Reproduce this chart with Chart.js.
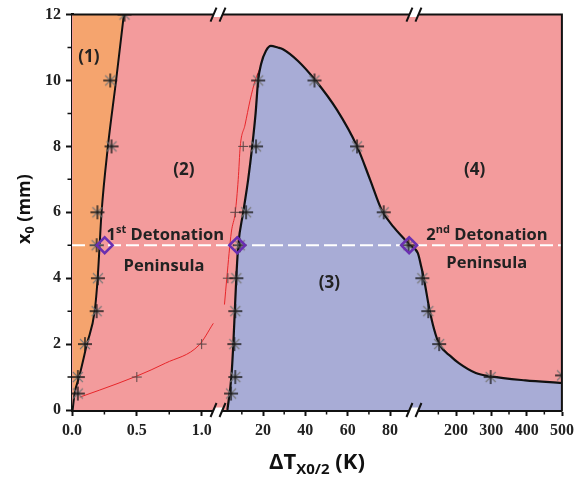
<!DOCTYPE html>
<html>
<head>
<meta charset="utf-8">
<script src="https://cdn.jsdelivr.net/npm/chart.js@4.4.1/dist/chart.umd.min.js"></script>
<style>
  html, body { margin: 0; padding: 0; background: #fff; }
</style>
</head>
<body>
<canvas id="c" width="579" height="481"></canvas>
<script>
// axis ticks (x axis is broken in three pieces)
const X_TICKS = [0, 0.5, 1.0, 20, 40, 60, 80, 200, 300, 400, 500];
const X_TICK_LABELS = ['0.0', '0.5', '1.0', '20', '40', '60', '80', '200', '300', '400', '500'];
const X_MINOR = [0.25, 0.75, 10, 30, 50, 70, 150, 250, 350, 450];
const X_BREAKS = [1.13, 91.5];
const Y_TICKS = [0, 2, 4, 6, 8, 10, 12];
const Y_MINOR = [1, 3, 5, 7, 9, 11];

// boundary (1)|(2)
const B12_X = [0.005, 0.02, 0.055, 0.115, 0.175, 0.198, 0.213, 0.228, 0.277, 0.34, 0.4];
const B12_Y = [0, 0.5, 1, 2, 3, 4, 5, 6, 8, 10, 12];
const STAR12_X = [0.045, 0.045, 0.1, 0.19, 0.2, 0.19, 0.196, 0.305, 0.295, 0.405];
const STAR12_Y = [0.5, 1, 2, 3, 4, 5, 6, 8, 10, 12];

// boundary of region (3)
const B3_X = [3.18, 5.05, 5.98, 6.68, 7.38, 8.32, 10.65, 13.0, 14.9, 16.5, 17.7, 19.1, 21.4, 23.7,
  27.0, 29.4, 36.4, 44.8, 55.0, 64.4, 70.5, 76.1, 81.7, 86.4, 89.2, 92, 102, 110, 124, 138,
  152.4, 186, 208, 256, 298, 396, 500];
const B3_Y = [0, 1, 2, 3, 4, 5, 6, 7, 8, 9, 10, 10.5, 10.9, 11.05,
  11.0, 10.95, 10.6, 10, 9.1, 8, 7, 6.06, 5.55, 5.21, 5, 4.76, 4.33, 3.94, 3.1, 2.45,
  2, 1.62, 1.42, 1.12, 1.02, 0.9, 0.82];
const STAR3_X = [4.9, 6.9, 6.45, 6.9, 7.4, 9.0, 12.0, 16.7, 17.7, 44.3, 64.4, 77.0, 88.7, 104.8, 121.6, 152.4, 298, 500];
const STAR3_Y = [0.5, 1, 2, 3, 4, 5, 6, 8, 10, 10, 8, 6, 5, 4, 3, 2, 1, 1.05];

// thin red curves
const RED1_X = [0.06, 0.21, 0.5, 0.72, 0.98, 1.09];
const RED1_Y = [0.39, 0.6, 1.03, 1.42, 1.97, 2.63];
const RED2_X = [1.8, 2.9, 5.05, 6.9, 8.3, 9.25, 11.5, 13.9, 16.3, 19.1];
const RED2_Y = [3.2, 4, 5.4, 6, 7, 8, 8.65, 9.4, 10, 10.45];
const PLUS_X = [0.5, 1.0, 3.4, 6.9, 10.65];
const PLUS_Y = [1, 2, 4, 6, 8];

// detonation peninsula points and dashed line
const DIAMOND_X = [0.252, 7.85, 89.0];
const DIAMOND_Y = [5, 5, 5];
const DASH_X = [0, 500];
const DASH_Y = [5, 5];

// region labels
const LABELS = [
  { parts: [['(1)', 17, 0]], x: 0.13, y: 10.55, align: 'center' },
  { parts: [['(2)', 17, 0]], x: 0.863, y: 7.12, align: 'center' },
  { parts: [['(3)', 17, 0]], x: 51.3, y: 3.7, align: 'center' },
  { parts: [['(4)', 17, 0]], x: 253, y: 7.12, align: 'center' },
  { parts: [['1', 16.5, 0], ['st', 11, -7], [' Detonation', 16.5, 0]], x: 0.267, y: 5.15, align: 'left' },
  { parts: [['Peninsula', 16.5, 0]], x: 0.71, y: 4.21, align: 'center' },
  { parts: [['2', 16.5, 0], ['nd', 11, -7], [' Detonation', 16.5, 0]], x: 116, y: 5.15, align: 'left' },
  { parts: [['Peninsula', 16.5, 0]], x: 287, y: 4.3, align: 'center' }
];

const PINK = '#f39b9c';
const ORANGE = '#f5a46e';
const BLUE = '#a8acd6';
const RED = '#e8262a';
const INK = '#222';
const SANS = "'Open Sans', 'DejaVu Sans', sans-serif";
const SERIF = "'Liberation Serif', 'Times New Roman', serif";

// broken x axis -> axis units
function brk(x) {
  if (x <= X_BREAKS[0]) return x * 131;
  if (x <= X_BREAKS[1]) return 193 + (x - 20) * 2.14;
  return 388 + (x - 200) * 0.357;
}

function pts(xs, ys) {
  return xs.map((v, i) => ({ x: brk(v), y: ys[i] }));
}

function makeStar() {
  const c = document.createElement('canvas');
  c.width = c.height = 16;
  const g = c.getContext('2d');
  g.strokeStyle = '#777';
  g.lineWidth = 1.1;
  g.beginPath();
  g.moveTo(3, 3); g.lineTo(13, 13);
  g.moveTo(13, 3); g.lineTo(3, 13);
  g.stroke();
  g.strokeStyle = '#1a1a1a';
  g.lineWidth = 1.4;
  g.beginPath();
  g.moveTo(8, 1); g.lineTo(8, 15);
  g.moveTo(1, 8); g.lineTo(15, 8);
  g.stroke();
  return c;
}
const star = makeStar();

function drawRuns(ctx, parts, x, y, align) {
  let w = 0;
  parts.forEach(p => { ctx.font = 'bold ' + p[1] + 'px ' + SANS; w += ctx.measureText(p[0]).width; });
  let cx = align === 'center' ? x - w / 2 : x;
  parts.forEach(p => {
    ctx.font = 'bold ' + p[1] + 'px ' + SANS;
    ctx.fillText(p[0], cx, y + p[2]);
    cx += ctx.measureText(p[0]).width;
  });
  return w;
}

function drawBreak(ctx, px, py) {
  const k = 6 / 14;
  ctx.fillStyle = '#fff';
  ctx.beginPath();
  ctx.moveTo(px - 5 + 2.5 * k, py - 2.5);
  ctx.lineTo(px + 4 + 2.5 * k, py - 2.5);
  ctx.lineTo(px + 4 - 2.5 * k, py + 2.5);
  ctx.lineTo(px - 5 - 2.5 * k, py + 2.5);
  ctx.closePath();
  ctx.fill();
  ctx.strokeStyle = '#111';
  ctx.lineWidth = 2;
  ctx.beginPath();
  [px - 5, px + 4].forEach(cx => {
    ctx.moveTo(cx - 7 * k, py + 7);
    ctx.lineTo(cx + 7 * k, py - 7);
  });
  ctx.stroke();
}

const decor = {
  id: 'decor',
  beforeDatasetsDraw(chart) {
    const { ctx, chartArea: a } = chart;
    ctx.save();
    ctx.fillStyle = PINK;
    ctx.fillRect(a.left, a.top, a.width, a.height);
    ctx.restore();
  },
  afterDraw(chart) {
    const { ctx, chartArea: a, scales: { x, y } } = chart;
    ctx.save();
    // frame top + right
    ctx.strokeStyle = '#111';
    ctx.lineWidth = 2;
    ctx.beginPath();
    ctx.moveTo(a.left, a.top);
    ctx.lineTo(a.right, a.top);
    ctx.lineTo(a.right, a.bottom + 1.5);
    ctx.stroke();
    // minor ticks
    ctx.lineWidth = 1.5;
    ctx.beginPath();
    X_MINOR.forEach(v => {
      const p = x.getPixelForValue(brk(v));
      ctx.moveTo(p, a.bottom); ctx.lineTo(p, a.bottom + 4.5);
    });
    Y_MINOR.forEach(v => {
      const p = y.getPixelForValue(v);
      ctx.moveTo(a.left, p); ctx.lineTo(a.left - 4.5, p);
    });
    ctx.stroke();
    // axis breaks
    X_BREAKS.forEach(v => {
      const p = x.getPixelForValue(brk(v));
      drawBreak(ctx, p, a.top);
      drawBreak(ctx, p, a.bottom);
    });
    // region labels
    ctx.fillStyle = INK;
    ctx.textBaseline = 'alphabetic';
    ctx.textAlign = 'left';
    LABELS.forEach(l => {
      drawRuns(ctx, l.parts, x.getPixelForValue(brk(l.x)), y.getPixelForValue(l.y), l.align);
    });
    // axis titles
    ctx.fillStyle = '#111';
    drawRuns(ctx, [['\u0394T', 22, 0], ['X0/2', 15, 5], [' (K)', 22, 0]], (a.left + a.right) / 2 + 0, 469, 'center');
    ctx.translate(30, 209);
    ctx.rotate(-Math.PI / 2);
    drawRuns(ctx, [['x', 18, 0], ['0', 12.5, 4], [' (mm)', 18, 0]], 0, 0, 'center');
    ctx.restore();
  }
};

const lineBase = { pointRadius: 0, clip: 0, fill: false, cubicInterpolationMode: 'monotone' };
const markBase = { showLine: false, clip: 0, pointHoverRadius: 0 };

new Chart(document.getElementById('c'), {
  type: 'line',
  data: {
    datasets: [
      { ...markBase, data: pts(DIAMOND_X, DIAMOND_Y), pointStyle: 'rectRot', pointRadius: 8,
        pointBorderWidth: 2.5, pointBorderColor: '#6a2fb0', pointBackgroundColor: 'rgba(0,0,0,0)' },
      { ...markBase, data: pts(STAR12_X, STAR12_Y), pointStyle: star, pointRadius: 8 },
      { ...markBase, data: pts(STAR3_X, STAR3_Y), pointStyle: star, pointRadius: 8 },
      { ...markBase, data: pts(PLUS_X, PLUS_Y), pointStyle: 'cross', pointRadius: 5,
        pointBorderColor: '#5a4545', pointBorderWidth: 1 },
      { ...lineBase, data: pts(DASH_X, DASH_Y), borderColor: '#fff', borderWidth: 2, borderDash: [13, 5] },
      { ...lineBase, data: pts(B12_X, B12_Y), borderColor: '#111', borderWidth: 2, fill: 'end', backgroundColor: ORANGE },
      { ...lineBase, data: pts(B3_X, B3_Y), borderColor: '#111', borderWidth: 2.2, fill: 'start', backgroundColor: BLUE },
      { ...lineBase, data: pts(RED1_X, RED1_Y), borderColor: RED, borderWidth: 1 },
      { ...lineBase, data: pts(RED2_X, RED2_Y), borderColor: RED, borderWidth: 1 }
    ]
  },
  options: {
    responsive: false,
    animation: false,
    devicePixelRatio: 1,
    layout: { padding: { top: 14, right: 12, left: 0, bottom: 0 } },
    plugins: { legend: { display: false }, tooltip: { enabled: false } },
    scales: {
      x: {
        type: 'linear', min: 0, max: 495,
        afterBuildTicks: s => { s.ticks = X_TICKS.map(v => ({ value: brk(v) })); },
        afterFit: s => { s.height = 71; },
        ticks: {
          autoSkip: false, maxRotation: 0, padding: 5, color: INK,
          font: { family: SERIF, size: 16, weight: 'bold' },
          callback: (v, i) => X_TICK_LABELS[i]
        },
        grid: { drawOnChartArea: false, drawTicks: true, tickLength: 6, tickWidth: 2, tickColor: '#111' },
        border: { color: '#111', width: 3 }
      },
      y: {
        type: 'linear', min: 0, max: 12,
        afterBuildTicks: s => { s.ticks = Y_TICKS.map(v => ({ value: v })); },
        afterFit: s => { s.width = 72; },
        ticks: {
          padding: 5, color: INK,
          font: { family: SERIF, size: 16, weight: 'bold' }
        },
        grid: { drawOnChartArea: false, drawTicks: true, tickLength: 6, tickWidth: 2, tickColor: '#111' },
        border: { color: '#111', width: 3 }
      }
    }
  },
  plugins: [decor]
});
</script>
</body>
</html>
